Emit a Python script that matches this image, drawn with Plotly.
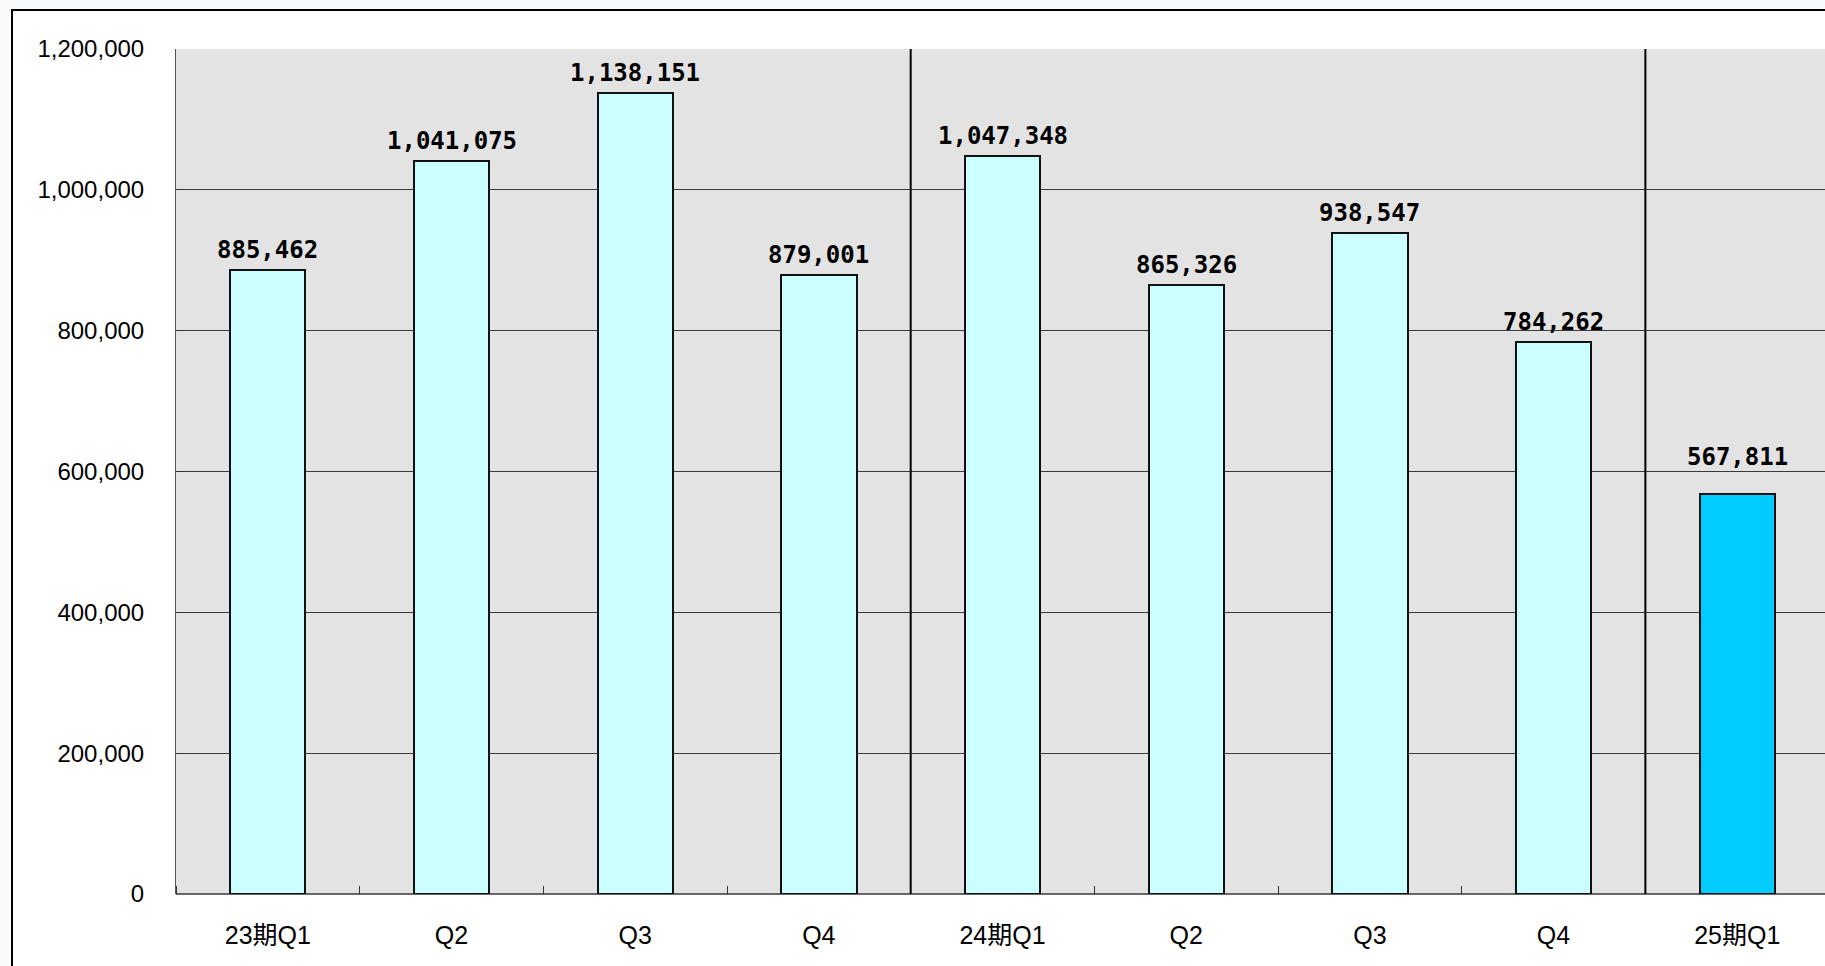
import plotly.graph_objects as go

# ---- data ----
tick_labels = ["23期Q1", "Q2", "Q3", "Q4", "24期Q1", "Q2", "Q3", "Q4", "25期Q1"]
values = [885462, 1041075, 1138151, 879001, 1047348, 865326, 938547, 784262, 567811]
highlight = [False] * 8 + [True]     # current quarter
period_breaks = [3.5, 7.5]          # boundaries between fiscal periods
y_ticks = [0, 200000, 400000, 600000, 800000, 1000000, 1200000]

x = list(range(len(values)))
bar_colors = ["#00ccff" if h else "#ccffff" for h in highlight]

W, H = 1825, 966
L, R, T, B = 176, 0, 49, 72

fig = go.Figure()
fig.add_trace(go.Bar(
    x=x, y=values, width=0.41,
    marker=dict(color=bar_colors, line=dict(color="#111111", width=2)),
    hoverinfo="skip",
))

for xi, v, h in zip(x, values, highlight):
    fig.add_annotation(
        x=xi, y=v, text=f"{v:,}", showarrow=False,
        yanchor="bottom", yshift=21 if h else 4,
        font=dict(family="DejaVu Sans Mono", size=24, color="#000000", weight="bold"),
    )

pw = W - L - R
ph = H - T - B
# outer chart frame (white area with black border, partially cropped)
fig.add_shape(type="rect", xref="paper", yref="paper",
              x0=(12 - L) / pw, x1=1.2, y0=-0.3, y1=(H - B - 10) / ph,
              fillcolor="#ffffff", line=dict(color="#000000", width=2), layer="below")
# plot background
fig.add_shape(type="rect", xref="paper", yref="paper",
              x0=0, x1=1, y0=0, y1=1,
              fillcolor="#e3e3e3", line=dict(width=0), layer="below")

for b in period_breaks:
    fig.add_shape(type="line", xref="x", yref="paper", x0=b, x1=b, y0=0, y1=1,
                  line=dict(color="#000000", width=2), layer="above")

fig.update_layout(
    width=W, height=H,
    margin=dict(l=L, r=R, t=T, b=B, pad=0),
    paper_bgcolor="#f7f9fa",
    plot_bgcolor="#e3e3e3",
    showlegend=False,
    bargap=0,
    xaxis=dict(
        range=[-0.5, 8.478],
        tickmode="array", tickvals=x, ticktext=tick_labels,
        ticks="", showgrid=False, zeroline=False,
        showline=False,
        tickfont=dict(family="Liberation Sans, Noto Sans CJK JP", size=25, color="#000000"),
        ticklabelstandoff=24,
        minor=dict(tick0=-0.5, dtick=1, ticks="inside", ticklen=8,
                   tickcolor="#333333", tickwidth=1, showgrid=False),
        fixedrange=True,
    ),
    yaxis=dict(
        range=[0, 1200000],
        tickmode="array", tickvals=y_ticks,
        tickformat=",d",
        ticks="inside", ticklen=8, tickcolor="#333333",
        showgrid=True, gridcolor="#3a3a3a", gridwidth=1,
        zeroline=True, zerolinecolor="#666666", zerolinewidth=2,
        showline=True, linecolor="#555555", linewidth=1,
        tickfont=dict(family="Liberation Sans", size=24, color="#000000"),
        ticklabelstandoff=26,
        fixedrange=True,
    ),
)

fig.write_html("out.html")
